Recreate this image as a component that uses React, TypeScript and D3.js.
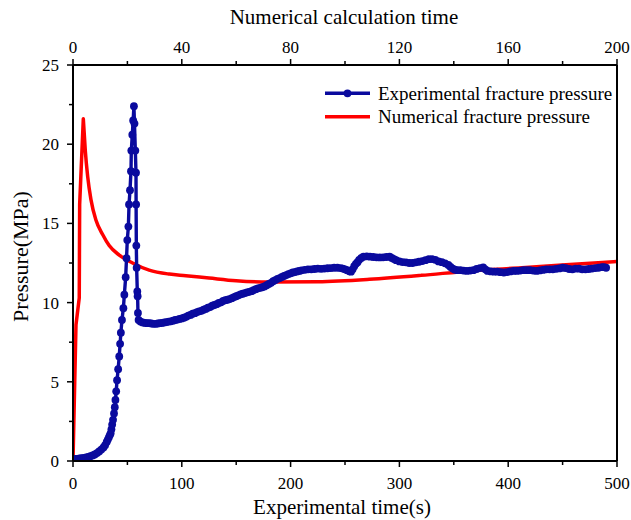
import React from "react";
import * as d3 from "d3";

const expTime = [0,2,4,6,8,10,12,14,16,18,20,22,24,26,28,29.5,31,32,33,34,34.6,35.3,36,36.8,37.7,38.4,39,39.7,40.5,41.5,42.5,43.3,44,45,46.3,47.2,48.4,49.2,49.9,50.9,51.5,52.4,53.3,53.6,54.5,55.3,56,56.5,57.3,57.9,58,58.2,58.5,59.1,59.4,59.7,60.3,62,64,66,68,70,72,74,76,78,80,82,84,86,88,90,92,94,96,98,100,102,104,106,108,110,112,114,116,118,120,122,124,126,128,130,132,134,136,138,140,142,144,146,148,150,152,154,156,158,160,162,164,166,168,170,172,174,176,178,180,182,184,186,188,190,192,194,196,198,200,202,204,206,208,210,213,216,219,222,225,228,231,234,237,240,243,246,248,250,252,254,255.5,257,258.5,260,261.5,263,265,267,270,273,276,279,282,285,288,291,293,295,297,300,303,306,309,312,315,318,321,324,327,330,333,336,339,342,345,347,349,351,353,356,359,362,365,368,371,374,377,379,381,384,387,390,393,396,399,402,405,408,411,414,417,420,423,426,429,432,435,438,441,444,447,450,453,456,459,462,465,468,471,474,477,480,483,486,488,490];
const expPressure = [0.12,0.13,0.14,0.16,0.18,0.2,0.23,0.26,0.3,0.35,0.41,0.5,0.6,0.72,0.86,1.0,1.2,1.35,1.5,1.65,1.75,2.0,2.3,2.6,3.0,3.4,3.85,4.4,5.1,5.8,6.6,7.4,8.1,8.9,9.65,10.5,11.6,12.8,13.95,14.8,16.2,17.1,18.3,19.6,20.6,21.5,22.4,21.3,19.6,18.2,16.2,13.6,12.2,10.7,10.4,9.35,8.9,8.8,8.75,8.72,8.7,8.7,8.68,8.66,8.66,8.68,8.7,8.72,8.75,8.77,8.8,8.82,8.86,8.9,8.93,8.97,9.0,9.05,9.1,9.18,9.22,9.3,9.33,9.4,9.45,9.48,9.55,9.6,9.68,9.72,9.8,9.85,9.9,9.98,10.02,10.1,10.15,10.18,10.22,10.28,10.35,10.4,10.46,10.52,10.56,10.6,10.65,10.68,10.72,10.78,10.85,10.9,10.93,10.97,11.02,11.1,11.18,11.25,11.35,11.42,11.5,11.55,11.62,11.68,11.74,11.8,11.85,11.9,11.93,11.97,12.0,12.04,12.07,12.1,12.1,12.12,12.15,12.13,12.15,12.17,12.18,12.2,12.2,12.18,12.15,12.1,12.05,11.98,11.95,12.1,12.3,12.45,12.55,12.7,12.82,12.9,12.92,12.9,12.88,12.86,12.85,12.86,12.88,12.9,12.82,12.75,12.68,12.6,12.56,12.54,12.5,12.5,12.54,12.58,12.62,12.68,12.74,12.75,12.7,12.6,12.55,12.48,12.38,12.25,12.15,12.08,12.05,12.05,12.02,12.0,12.02,12.05,12.12,12.18,12.22,12.1,12.0,11.97,11.95,11.95,11.92,11.9,11.93,11.97,12.0,12.0,12.02,12.05,12.05,12.05,12.02,12.0,12.03,12.06,12.1,12.1,12.1,12.13,12.16,12.2,12.18,12.12,12.1,12.15,12.14,12.1,12.1,12.12,12.15,12.18,12.2,12.24,12.24,12.2];

const numTime = [0,1.1,2.3,2.45,3.79,4.52,5.4,6.6,8.46,10.9,13.3,17.0,21.9,28.0,35.4,41.5,50,60,72,90,109,128,146,165,182.7,200];
const numPressure = [0,8.6,10.3,16.2,21.6,19.6,17.95,16.5,15.2,14.3,13.6,13.0,12.5,12.05,11.8,11.7,11.55,11.38,11.3,11.32,11.47,11.72,12.0,12.2,12.4,12.6];

const bottomTicks = [0,100,200,300,400,500];
const topTicks = [0,40,80,120,160,200];
const yTicks = [0,5,10,15,20,25];

const legendLabels = ["Experimental fracture pressure","Numerical fracture pressure"];

const BLUE = "#0a0a9e";
const RED = "#ff0000";
const FONT = '"Liberation Serif"';

export default function App() {
  const W = 631, H = 520;
  const L = 73, R = 617, T = 65, B = 461;
  const x = d3.scaleLinear().domain([0, 500]).range([L, R]);
  const xTop = d3.scaleLinear().domain([0, 200]).range([L, R]);
  const y = d3.scaleLinear().domain([0, 25]).range([B, T]);

  const expLine = d3.line<number>().x((_, i) => x(expTime[i])).y((d) => y(d));
  const peakIdx = 4;
  const numLineSharp = d3.line<number>().x((_, i) => xTop(numTime[i])).y((d) => y(d));
  const numLineSmooth = d3
    .line<number>()
    .x((_, i) => xTop(numTime[i + peakIdx]))
    .y((d) => y(d))
    .curve(d3.curveMonotoneX);
  const numPath =
    (numLineSharp(numPressure.slice(0, peakIdx + 1)) || "") +
    (numLineSmooth(numPressure.slice(peakIdx)) || "").replace(/^M/, "L");

  const bottomMinor = d3.range(50, 500, 100);
  const topMinor = d3.range(20, 200, 40);
  const yMinor = d3.range(2.5, 25, 5);
  const txt = { fontFamily: FONT } as React.CSSProperties;

  return (
    <svg width={W} height={H} style={{ position: "absolute", left: 0, top: 0 }}>
      <rect x={0} y={0} width={W} height={H} fill="#fff" />
      <defs>
        <clipPath id="plot">
          <rect x={L} y={T - 2} width={R - L} height={B - T + 2} />
        </clipPath>
      </defs>
      <g clipPath="url(#plot)">
        <path d={numPath} fill="none" stroke={RED} strokeWidth={3.5} strokeLinejoin="round" />
        <path d={expLine(expPressure) || ""} fill="none" stroke={BLUE} strokeWidth={3.4} strokeLinejoin="round" />
        {expPressure.map((p, i) => (
          <circle key={i} cx={x(expTime[i])} cy={y(p)} r={3.9} fill={BLUE} />
        ))}
      </g>
      <g stroke="#000" strokeWidth={2} fill="none">
        <line x1={L} y1={B} x2={R} y2={B} />
        <line x1={L} y1={T} x2={R} y2={T} />
        <line x1={L} y1={T} x2={L} y2={B} />
        <line x1={R} y1={T} x2={R} y2={B} />
      </g>
      <g stroke="#000" strokeWidth={1.5}>
        {bottomTicks.map((t) => <line key={"bt" + t} x1={x(t)} x2={x(t)} y1={B} y2={B + 6} />)}
        {bottomMinor.map((t) => <line key={"bm" + t} x1={x(t)} x2={x(t)} y1={B} y2={B + 4} />)}
        {topTicks.map((t) => <line key={"tt" + t} x1={xTop(t)} x2={xTop(t)} y1={T} y2={T - 6} />)}
        {topMinor.map((t) => <line key={"tm" + t} x1={xTop(t)} x2={xTop(t)} y1={T} y2={T - 4} />)}
        {yTicks.map((t) => <line key={"yt" + t} x1={L} x2={L - 6} y1={y(t)} y2={y(t)} />)}
        {yMinor.map((t) => <line key={"ym" + t} x1={L} x2={L - 4} y1={y(t)} y2={y(t)} />)}
      </g>
      <g fontSize={17} fill="#000">
        {bottomTicks.map((t) => (
          <text key={"btl" + t} style={txt} x={x(t)} y={B + 28} textAnchor="middle">{t}</text>
        ))}
        {topTicks.map((t) => (
          <text key={"ttl" + t} style={txt} x={xTop(t)} y={T - 12} textAnchor="middle">{t}</text>
        ))}
        {yTicks.map((t) => (
          <text key={"ytl" + t} style={txt} x={L - 14} y={y(t) + 6} textAnchor="end">{t}</text>
        ))}
      </g>
      <g fill="#000">
        <text style={txt} fontSize={21} x={342} y={514} textAnchor="middle">Experimental time(s)</text>
        <text style={txt} fontSize={21} x={344} y={24} textAnchor="middle">Numerical calculation time</text>
        <text style={txt} fontSize={22} transform={`translate(28, 256.5) rotate(-90)`} textAnchor="middle">Pressure(MPa)</text>
      </g>
      <g>
        <line x1={325} x2={370} y1={93.3} y2={93.3} stroke={BLUE} strokeWidth={3.4} />
        <circle cx={347.5} cy={93.3} r={3.9} fill={BLUE} />
        <text style={txt} x={378} y={100} fontSize={19}>{legendLabels[0]}</text>
        <line x1={325} x2={370} y1={116.7} y2={116.7} stroke={RED} strokeWidth={3.5} />
        <text style={txt} x={378} y={123} fontSize={19}>{legendLabels[1]}</text>
      </g>
    </svg>
  );
}
